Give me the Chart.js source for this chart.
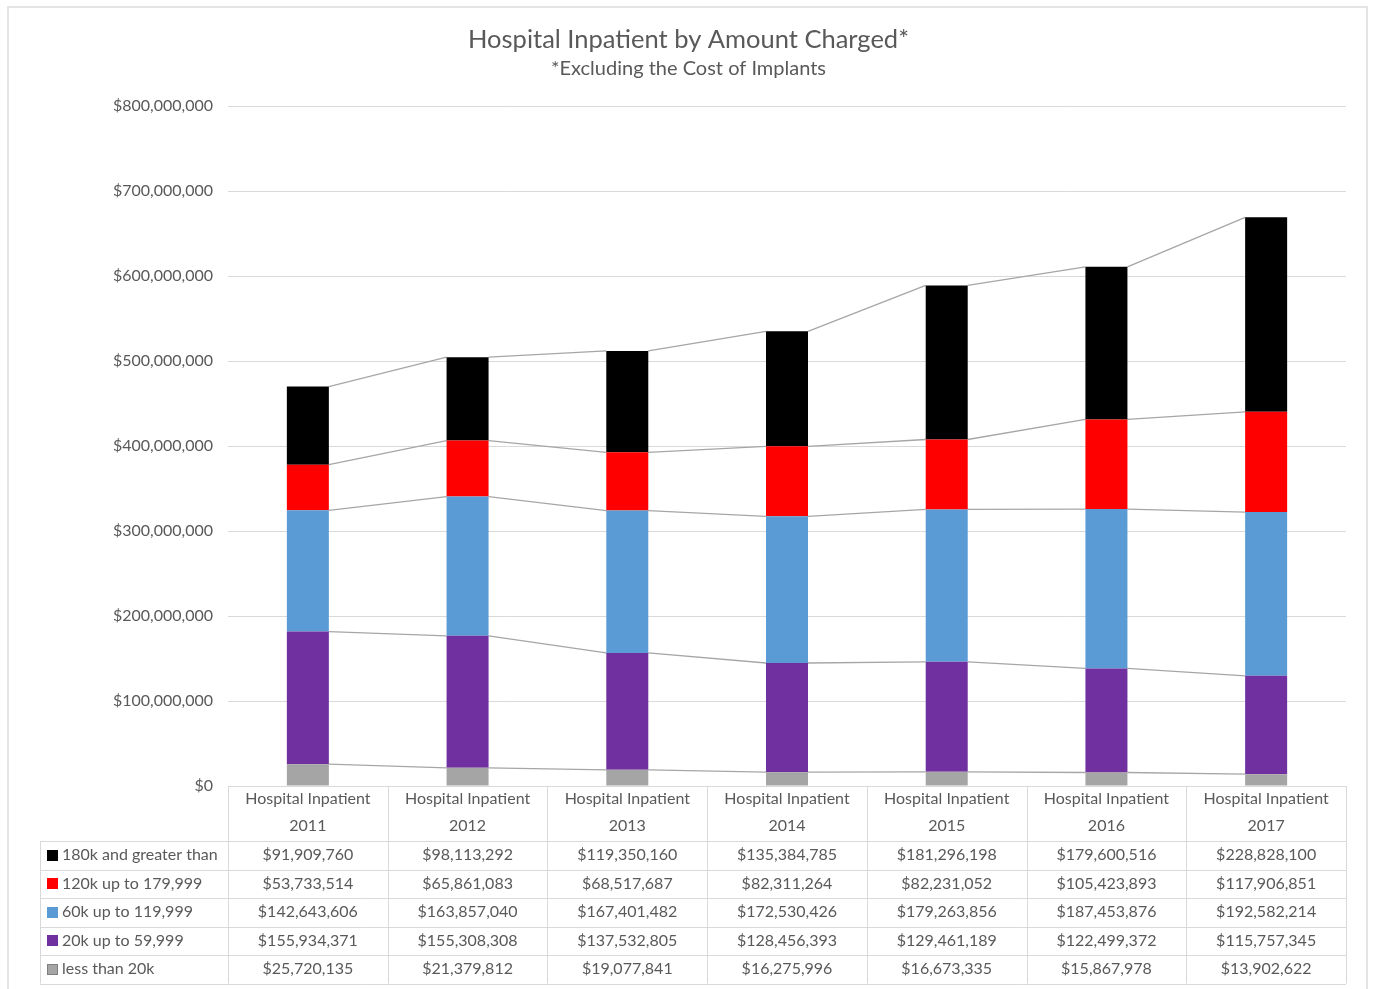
<!DOCTYPE html>
<html>
<head>
<meta charset="utf-8">
<script src="https://cdn.jsdelivr.net/npm/chart.js@4.4.0/dist/chart.umd.min.js"></script>
<style>
  html, body { margin: 0; padding: 0; background: #fff; }
  #wrap { position: relative; width: 1377px; height: 989px; }
  #frame { position: absolute; left: 7px; top: 6px; width: 1361px; height: 990px; border: 2px solid #e4e4e4; box-sizing: border-box; }
  canvas { position: absolute; left: 0; top: 0; }
</style>
</head>
<body>
<div id="wrap">
  <div id="frame"></div>
  <canvas id="grafico" width="1377" height="989"></canvas>
</div>
<script>
const anos = ['2011', '2012', '2013', '2014', '2015', '2016', '2017'];
const faixas = ['less than 20k', '20k up to 59,999', '60k up to 119,999', '120k up to 179,999', '180k and greater than'];
const cores = ['#a5a5a5', '#7030a0', '#5b9bd5', '#ff0000', '#000000'];

const menos20k = [25720135, 21379812, 19077841, 16275996, 16673335, 15867978, 13902622];
const de20a60k = [155934371, 155308308, 137532805, 128456393, 129461189, 122499372, 115757345];
const de60a120k = [142643606, 163857040, 167401482, 172530426, 179263856, 187453876, 192582214];
const de120a180k = [53733514, 65861083, 68517687, 82311264, 82231052, 105423893, 117906851];
const acima180k = [91909760, 98113292, 119350160, 135384785, 181296198, 179600516, 228828100];

const valores = [menos20k, de20a60k, de60a120k, de120a180k, acima180k];
const fonte = 'Lato, "Open Sans", sans-serif';
const corTexto = '#595959';

function dinheiro(v) {
    return '$' + Math.round(v).toLocaleString('en-US');
}

// linhas de série entre as pilhas (estilo Excel)
const linhasSerie = {
    id: 'linhasSerie',
    beforeDatasetsDraw(chart) {
        const ctx = chart.ctx;
        ctx.save();
        ctx.strokeStyle = '#a6a6a6';
        ctx.lineWidth = 1.3;
        chart.data.datasets.forEach((ds, d) => {
            const barras = chart.getDatasetMeta(d).data;
            for (let i = 0; i < barras.length - 1; i++) {
                const a = barras[i], b = barras[i + 1];
                ctx.beginPath();
                ctx.moveTo(a.x + a.width / 2, a.y);
                ctx.lineTo(b.x - b.width / 2, b.y);
                ctx.stroke();
            }
        });
        ctx.restore();
    }
};

// tabela de dados abaixo do gráfico
const tabelaDados = {
    id: 'tabelaDados',
    afterDraw(chart) {
        const ctx = chart.ctx;
        const area = chart.chartArea;
        const largura = (area.right - area.left) / anos.length;
        const topo = area.bottom;
        const alturaCab = 55;
        const alturaLinha = 28.5;
        const esquerda = 40;
        const fundo = topo + alturaCab + alturaLinha * faixas.length;

        ctx.save();
        ctx.strokeStyle = '#d9d9d9';
        ctx.lineWidth = 1;

        // linhas horizontais
        ctx.beginPath();
        ctx.moveTo(area.left, topo + 0.5);
        ctx.lineTo(area.right, topo + 0.5);
        for (let r = 0; r <= faixas.length; r++) {
            const y = Math.round(topo + alturaCab + r * alturaLinha) + 0.5;
            ctx.moveTo(esquerda, y);
            ctx.lineTo(area.right, y);
        }
        // linhas verticais
        for (let c = 0; c <= anos.length; c++) {
            const x = Math.round(area.left + c * largura) + 0.5;
            ctx.moveTo(x, topo);
            ctx.lineTo(x, fundo);
        }
        ctx.moveTo(esquerda + 0.5, topo + alturaCab);
        ctx.lineTo(esquerda + 0.5, fundo);
        ctx.stroke();

        ctx.fillStyle = corTexto;
        ctx.font = '16px ' + fonte;
        ctx.textAlign = 'center';
        ctx.textBaseline = 'middle';
        anos.forEach((ano, c) => {
            const cx = area.left + (c + 0.5) * largura;
            ctx.fillText('Hospital Inpatient', cx, topo + 13);
            ctx.fillText(ano, cx, topo + 40);
        });

        // linhas da tabela, de cima para baixo
        for (let r = 0; r < faixas.length; r++) {
            const d = faixas.length - 1 - r;
            const cy = topo + alturaCab + (r + 0.5) * alturaLinha;
            ctx.fillStyle = cores[d];
            ctx.fillRect(47, Math.round(cy - 5.5), 11, 11);
            if (d === 0) {
                ctx.strokeStyle = '#7f7f7f';
                ctx.strokeRect(47.5, Math.round(cy - 5.5) + 0.5, 10, 10);
            }
            ctx.fillStyle = corTexto;
            ctx.textAlign = 'left';
            ctx.fillText(faixas[d], 62, cy);
            ctx.textAlign = 'center';
            valores[d].forEach((v, c) => {
                ctx.fillText(dinheiro(v), area.left + (c + 0.5) * largura, cy);
            });
        }
        ctx.restore();
    }
};

new Chart(document.getElementById('grafico').getContext('2d'), {
    type: 'bar',
    data: {
        labels: anos.map(a => 'Hospital Inpatient ' + a),
        datasets: faixas.map((f, d) => ({
            label: f,
            data: valores[d],
            backgroundColor: cores[d],
            borderWidth: 0,
            categoryPercentage: 1,
            barPercentage: 0.263
        }))
    },
    options: {
        responsive: false,
        animation: false,
        layout: { padding: { left: 0, right: 0, top: 0, bottom: 195 } },
        plugins: {
            legend: { display: false },
            tooltip: { enabled: false },
            title: {
                display: true,
                text: 'Hospital Inpatient by Amount Charged*',
                color: corTexto,
                font: { family: fonte, size: 25.5, weight: 'normal' },
                padding: { top: 24, bottom: 2 }
            },
            subtitle: {
                display: true,
                text: '*Excluding the Cost of Implants',
                color: corTexto,
                font: { family: fonte, size: 20, weight: 'normal' },
                padding: { top: 0, bottom: 25.4 }
            }
        },
        scales: {
            x: {
                stacked: true,
                ticks: { display: false },
                grid: { display: false },
                border: { display: false }
            },
            y: {
                stacked: true,
                min: 0,
                max: 800000000,
                afterFit: s => { s.width = 228; },
                ticks: {
                    stepSize: 100000000,
                    color: corTexto,
                    padding: 15,
                    font: { family: fonte, size: 16 },
                    callback: v => dinheiro(v)
                },
                grid: { color: '#d9d9d9', drawTicks: false },
                border: { display: false }
            },
            // eixo vazio só para reservar a margem direita
            margemDireita: {
                type: 'linear',
                position: 'right',
                min: 0,
                max: 800000000,
                afterFit: s => { s.width = 31; },
                ticks: { display: false },
                grid: { display: false },
                border: { display: false }
            }
        }
    },
    plugins: [linhasSerie, tabelaDados]
});
</script>
</body>
</html>
